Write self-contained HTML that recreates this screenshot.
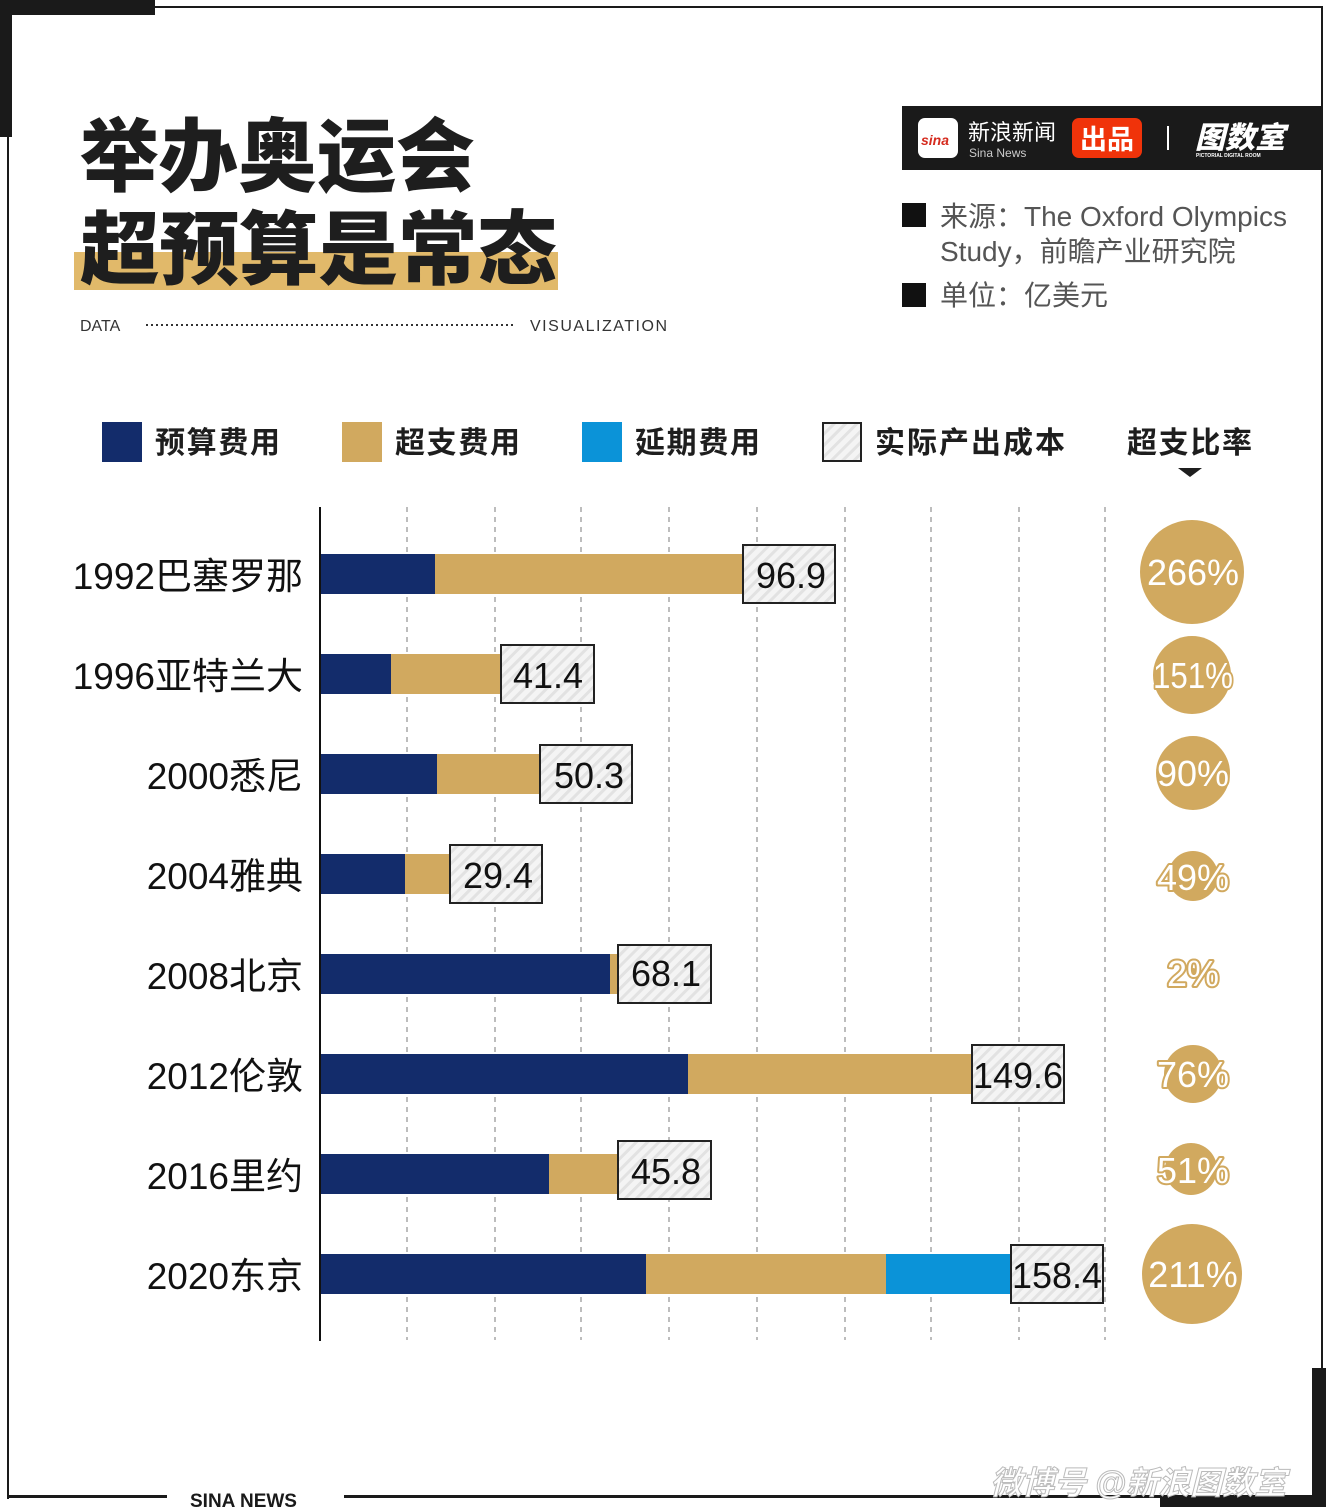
<!DOCTYPE html>
<html><head><meta charset="utf-8"><style>
html,body{margin:0;padding:0;background:#fff}
svg{display:block}
text{font-family:"Liberation Sans","Noto Sans CJK SC",sans-serif}
</style></head><body>
<svg width="1328" height="1507" viewBox="0 0 1328 1507" xmlns="http://www.w3.org/2000/svg">
<defs>
<pattern id="h" width="8" height="8" patternUnits="userSpaceOnUse" patternTransform="rotate(45)">
<rect width="8" height="8" fill="#f4f4f4"/><rect width="3" height="8" fill="#e2e2e2"/>
</pattern>
</defs>
<!-- frame -->
<rect x="0" y="0" width="155" height="15" fill="#1a1a1a"/>
<rect x="0" y="0" width="12" height="137" fill="#1a1a1a"/>
<rect x="155" y="6" width="1168" height="2" fill="#1a1a1a"/>
<rect x="1321" y="6" width="2" height="1370" fill="#1a1a1a"/>
<rect x="7" y="75" width="2" height="1424" fill="#1a1a1a"/>
<rect x="7" y="1495" width="160" height="3" fill="#1a1a1a"/>
<rect x="344" y="1495" width="970" height="3" fill="#1a1a1a"/>
<rect x="1312" y="1368" width="14" height="139" fill="#1a1a1a"/>
<rect x="1160" y="1497" width="160" height="10" fill="#1a1a1a"/>
<text x="190" y="1507" font-size="19" font-weight="bold" fill="#1a1a1a">SINA NEWS</text>
<text x="990" y="1494" font-size="32" font-weight="bold" font-style="italic" fill="#fff" stroke="#bbb" stroke-width="1">微博号 @新浪图数室</text>

<!-- title -->
<rect x="74" y="252" width="484" height="38" fill="#e1b96a"/>
<text x="80" y="185" font-size="80" font-weight="900" fill="#1e1e1e" textLength="395" lengthAdjust="spacingAndGlyphs">举办奥运会</text>
<text x="80" y="278" font-size="80" font-weight="900" fill="#1e1e1e" textLength="477" lengthAdjust="spacingAndGlyphs">超预算是常态</text>
<text x="80" y="331" font-size="16" fill="#333">DATA</text>
<line x1="146" y1="325" x2="516" y2="325" stroke="#333" stroke-width="2" stroke-dasharray="2,3"/>
<text x="530" y="331" font-size="16" fill="#333" textLength="137">VISUALIZATION</text>

<!-- header -->
<rect x="902" y="106" width="421" height="64" fill="#1a1a1a"/>
<rect x="918" y="118" width="40" height="40" rx="7" fill="#fff"/>
<text x="921" y="145" font-size="14" font-weight="bold" font-style="italic" fill="#d52b1e">sina</text>
<text x="968" y="140" font-size="22" fill="#fff">新浪新闻</text>
<text x="969" y="157" font-size="12" fill="#ccc">Sina News</text>
<rect x="1072" y="118" width="70" height="40" rx="7" fill="#f0330a"/>
<text x="1107" y="149" font-size="27" font-weight="bold" fill="#fff" text-anchor="middle">出品</text>
<rect x="1167" y="126" width="2" height="24" fill="#fff"/>
<text x="1195" y="148" font-size="30" font-weight="900" font-style="italic" fill="#fff">图数室</text>
<text x="1196" y="157" font-size="5" font-weight="bold" fill="#fff">PICTORIAL DIGITAL ROOM</text>

<rect x="902" y="203" width="24" height="24" fill="#111"/>
<text x="940" y="226" font-size="28" fill="#555">来源：The Oxford Olympics</text>
<text x="940" y="261" font-size="28" fill="#555">Study，前瞻产业研究院</text>
<rect x="902" y="283" width="24" height="24" fill="#111"/>
<text x="940" y="305" font-size="28" fill="#555">单位：亿美元</text>

<!-- legend -->
<rect x="102" y="422" width="40" height="40" fill="#132c6b"/>
<text x="155" y="453" font-size="30" font-weight="bold" fill="#1e1e1e" textLength="125">预算费用</text>
<rect x="342" y="422" width="40" height="40" fill="#d1a95f"/>
<text x="395" y="453" font-size="30" font-weight="bold" fill="#1e1e1e" textLength="125">超支费用</text>
<rect x="582" y="422" width="40" height="40" fill="#0b93d8"/>
<text x="635" y="453" font-size="30" font-weight="bold" fill="#1e1e1e" textLength="125">延期费用</text>
<rect x="823" y="423" width="38" height="38" fill="url(#h)" stroke="#222" stroke-width="2"/>
<text x="875" y="453" font-size="30" font-weight="bold" fill="#1e1e1e" textLength="190">实际产出成本</text>
<text x="1127" y="453" font-size="30" font-weight="bold" fill="#1e1e1e" textLength="125">超支比率</text>
<polygon points="1178,468 1202,468 1190,477" fill="#1e1e1e"/>

<!-- grid -->
<g stroke="#bdbdbd" stroke-width="2" stroke-dasharray="5,5">
<line x1="407" y1="507" x2="407" y2="1340"/><line x1="495" y1="507" x2="495" y2="1340"/>
<line x1="581" y1="507" x2="581" y2="1340"/><line x1="669" y1="507" x2="669" y2="1340"/>
<line x1="757" y1="507" x2="757" y2="1340"/><line x1="845" y1="507" x2="845" y2="1340"/>
<line x1="931" y1="507" x2="931" y2="1340"/><line x1="1019" y1="507" x2="1019" y2="1340"/>
<line x1="1105" y1="507" x2="1105" y2="1340"/>
</g>

<!-- labels -->
<g font-size="37" fill="#111" text-anchor="end">
<text x="303" y="589">1992巴塞罗那</text>
<text x="303" y="689">1996亚特兰大</text>
<text x="303" y="789">2000悉尼</text>
<text x="303" y="889">2004雅典</text>
<text x="303" y="989">2008北京</text>
<text x="303" y="1089">2012伦敦</text>
<text x="303" y="1189">2016里约</text>
<text x="303" y="1289">2020东京</text>
</g>

<!-- bars -->
<g>
<rect x="320" y="554" width="115" height="40" fill="#132c6b"/><rect x="435" y="554" width="308" height="40" fill="#d1a95f"/>
<rect x="320" y="654" width="71" height="40" fill="#132c6b"/><rect x="391" y="654" width="110" height="40" fill="#d1a95f"/>
<rect x="320" y="754" width="117" height="40" fill="#132c6b"/><rect x="437" y="754" width="103" height="40" fill="#d1a95f"/>
<rect x="320" y="854" width="85" height="40" fill="#132c6b"/><rect x="405" y="854" width="45" height="40" fill="#d1a95f"/>
<rect x="320" y="954" width="290" height="40" fill="#132c6b"/><rect x="610" y="954" width="8" height="40" fill="#d1a95f"/>
<rect x="320" y="1054" width="368" height="40" fill="#132c6b"/><rect x="688" y="1054" width="284" height="40" fill="#d1a95f"/>
<rect x="320" y="1154" width="229" height="40" fill="#132c6b"/><rect x="549" y="1154" width="69" height="40" fill="#d1a95f"/>
<rect x="320" y="1254" width="326" height="40" fill="#132c6b"/><rect x="646" y="1254" width="240" height="40" fill="#d1a95f"/><rect x="886" y="1254" width="125" height="40" fill="#0b93d8"/>
</g>
<rect x="319" y="507" width="2" height="834" fill="#111"/>

<!-- value boxes -->
<g fill="url(#h)" stroke="#222" stroke-width="2">
<rect x="743" y="545" width="92" height="58"/>
<rect x="501" y="645" width="93" height="58"/>
<rect x="540" y="745" width="92" height="58"/>
<rect x="450" y="845" width="92" height="58"/>
<rect x="618" y="945" width="93" height="58"/>
<rect x="972" y="1045" width="92" height="58"/>
<rect x="618" y="1141" width="93" height="58"/>
<rect x="1011" y="1245" width="92" height="58"/>
</g>
<g font-size="36" fill="#111" text-anchor="middle">
<text x="791" y="588">96.9</text>
<text x="548" y="688">41.4</text>
<text x="589" y="788">50.3</text>
<text x="498" y="888">29.4</text>
<text x="666" y="986">68.1</text>
<text x="1018" y="1088">149.6</text>
<text x="666" y="1184">45.8</text>
<text x="1057" y="1288">158.4</text>
</g>

<!-- circles -->
<g fill="#d1a95f">
<circle cx="1192" cy="572" r="52"/>
<circle cx="1192" cy="675" r="39"/>
<circle cx="1193" cy="773" r="37"/>
<circle cx="1193" cy="876" r="25"/>
<circle cx="1193" cy="973" r="5"/>
<circle cx="1193" cy="1074" r="29"/>
<circle cx="1191" cy="1169" r="26"/>
<circle cx="1192" cy="1274" r="50"/>
</g>
<g font-size="36" fill="#fff" text-anchor="middle" stroke="#d1a95f" stroke-width="4" paint-order="stroke" stroke-linejoin="round">
<text x="1193" y="585">266%</text>
<text x="1193" y="688" textLength="80" lengthAdjust="spacingAndGlyphs">151%</text>
<text x="1193" y="786">90%</text>
<text x="1193" y="890">49%</text>
<text x="1193" y="986">2%</text>
<text x="1193" y="1087">76%</text>
<text x="1193" y="1183">51%</text>
<text x="1193" y="1287">211%</text>
</g>
</svg>
</body></html>
